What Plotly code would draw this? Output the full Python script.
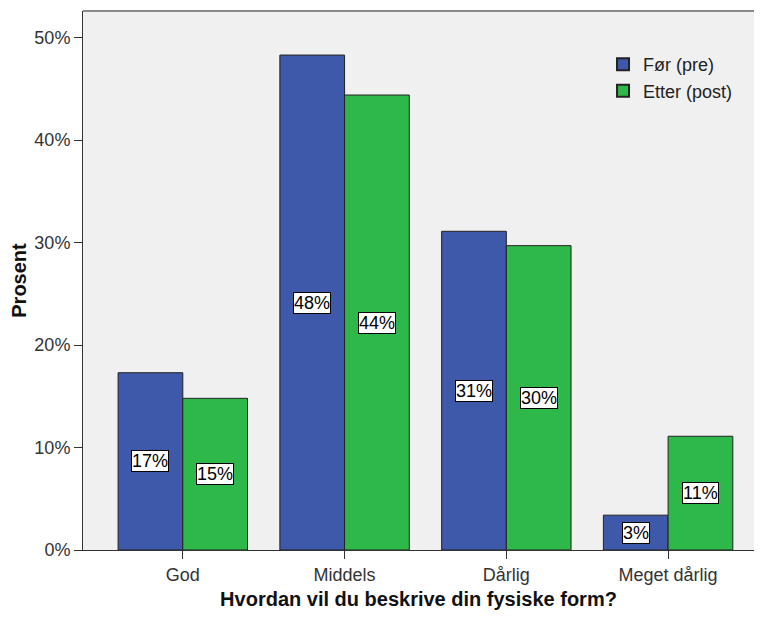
import plotly.graph_objects as go

categories = ["God", "Middels", "Dårlig", "Meget dårlig"]
pre_values = [17.3, 48.3, 31.1, 3.4]
post_values = [14.8, 44.4, 29.7, 11.1]
series_names = ["Før (pre)", "Etter (post)"]
y_ticks = [0, 10, 20, 30, 40, 50]
y_ticklabels = ["0%", "10%", "20%", "30%", "40%", "50%"]

BLUE = "#3e58aa"
GREEN = "#2fb84a"
FONT = "Liberation Sans, Arial, sans-serif"

fig = go.Figure()
for name, vals, col in [(series_names[0], pre_values, BLUE), (series_names[1], post_values, GREEN)]:
    fig.add_trace(go.Bar(
        x=categories, y=vals, name=name,
        marker=dict(color=col, line=dict(color="#222", width=1)),
        hoverinfo="x+y+name",
    ))

annotations = []
for offset, vals in [(-0.2, pre_values), (0.2, post_values)]:
    for i, v in enumerate(vals):
        annotations.append(dict(
            x=i + offset, y=v / 2, xref="x", yref="y",
            text=f"{round(v)}%", showarrow=False,
            font=dict(family=FONT, size=18, color="#000"),
            bgcolor="white", bordercolor="black", borderwidth=1, borderpad=0,
        ))

fig.update_layout(
    width=746, height=602,
    margin=dict(l=75, r=0, t=3, b=60),
    paper_bgcolor="white", plot_bgcolor="#f0f0f0",
    barmode="group", bargap=0.2, bargroupgap=0,
    font=dict(family=FONT, size=18, color="#333"),
    annotations=annotations,
    legend=dict(
        x=0.775, y=0.935, xanchor="left", yanchor="top",
        bgcolor="rgba(0,0,0,0)", font=dict(size=18, color="#222"),
        tracegroupgap=0, itemsizing="constant",
    ),
    showlegend=True,
)
fig.update_xaxes(
    type="category", range=[-0.617, 3.531],
    showline=True, linecolor="#333", linewidth=1,
    ticks="outside", ticklen=8, tickcolor="#333",
    showgrid=False,
    title=dict(text="<b>Hvordan vil du beskrive din fysiske form?</b>",
               font=dict(size=20, color="#111"), standoff=8),
    tickfont=dict(size=18, color="#333"),
)
fig.update_yaxes(
    range=[0, 52.6], tickvals=y_ticks, ticktext=y_ticklabels,
    showline=True, linecolor="#333", linewidth=1,
    ticks="outside", ticklen=8, tickcolor="#333",
    showgrid=False, zeroline=False,
    title=dict(text="<b>Prosent</b>", font=dict(size=20, color="#111"), standoff=6),
    tickfont=dict(size=18, color="#333"),
)
fig.add_shape(type="line", xref="paper", yref="paper", x0=0, x1=1, y0=1, y1=1,
              line=dict(color="#888", width=2))

fig.write_html("out.html")
